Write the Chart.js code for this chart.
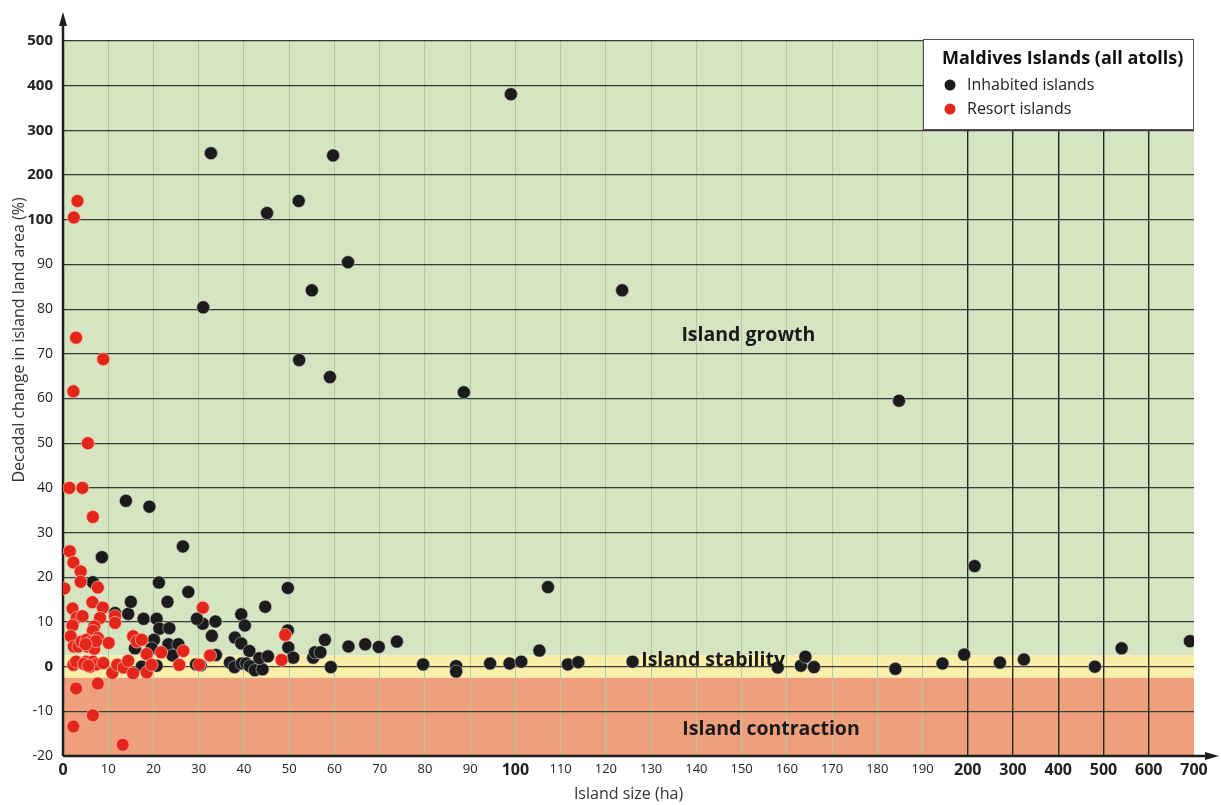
<!DOCTYPE html>
<html>
<head>
<meta charset="utf-8">
<script src="https://cdn.jsdelivr.net/npm/chart.js@4.4.1/dist/chart.umd.min.js"></script>
<style>
  html, body { margin: 0; padding: 0; background: #fff; }
  #wrap { width: 1221px; height: 805px; position: relative; }
</style>
</head>
<body>
<div id="wrap"><canvas id="islands-chart"></canvas></div>
<script>
// tick labels (the axes are broken: linear to 200 ha / 100 %, then compressed)
const xTickLabels = [0, 10, 20, 30, 40, 50, 60, 70, 80, 90, 100, 110, 120, 130, 140, 150, 160, 170, 180, 190, 200, 300, 400, 500, 600, 700];
const yTickLabels = [-20, -10, 0, 10, 20, 30, 40, 50, 60, 70, 80, 90, 100, 200, 300, 400, 500];
const boldX = [0, 100, 200, 300, 400, 500, 600, 700];
const boldY = [0, 100, 200, 300, 400, 500];

// [island size (ha), decadal change (%)]
const inhabitedIslands = [
  [99, 381], [32.7, 249], [59.7, 244], [45.1, 115], [52.1, 142], [63, 90.5], [55, 84.2], [123.6, 84.2],
  [31, 80.4], [52.2, 68.6], [59, 64.8], [88.6, 61.4], [184.8, 59.5], [13.9, 37.1], [19.1, 35.8],
  [26.5, 26.9], [8.6, 24.5], [107.2, 17.8], [215, 22.5],
  [184, -0.5], [194.4, 0.7], [199.2, 2.7], [271, 0.9], [324, 1.6], [481, 0], [540, 4.1], [691, 5.7],
  [73.8, 5.6], [79.6, 0.5], [86.9, 0.1], [86.9, -1.1], [94.4, 0.7], [98.7, 0.7], [101.3, 1.1],
  [105.3, 3.6], [111.6, 0.5], [113.9, 1.0], [125.9, 1.1], [158, -0.2], [163.1, 0.2], [164.1, 2.2], [166, -0.1],
  [30.9, 9.6], [33.7, 10.1], [32.9, 6.9], [33.8, 2.6], [39.4, 11.7], [40.2, 9.2], [44.7, 13.4], [49.7, 17.6],
  [38, 6.5], [39.4, 5.2], [41.2, 3.5], [36.9, 0.9], [37.9, -0.1], [39.5, 0.7], [40.5, 0.7], [41.3, 0.1],
  [42.4, -0.8], [44.1, -0.6], [43.4, 1.9], [45.3, 2.3], [49.7, 8.1], [49.8, 4.3], [50.9, 2.0], [55.3, 2.0],
  [55.7, 3.2], [56.9, 3.2], [57.9, 6.0], [59.2, -0.1], [63.1, 4.5], [66.8, 5.0], [69.8, 4.4],
  [6.6, 18.9], [11.5, 12.0], [14.4, 11.8], [15, 14.5], [15.9, 4.1], [17.8, 10.7], [20.7, 10.7], [21.2, 18.8],
  [23.1, 14.5], [27.7, 16.7], [21.3, 8.5], [23.5, 8.6], [20.1, 6.0], [19.6, 4.1], [23.3, 5.0], [25.5, 5.0],
  [24.2, 2.5], [17.4, 0], [20.7, 0.2], [29.6, 10.7], [29.4, 0.5], [30.4, 0.3]
];
const resortIslands = [
  [3.2, 142], [2.4, 105], [2.9, 73.6], [8.9, 68.8], [2.3, 61.6], [5.5, 50], [1.4, 40], [4.3, 40],
  [6.6, 33.5], [1.5, 25.8],
  [0.3, 17.5], [2.3, 23.3], [3.9, 21.3], [3.9, 19], [7.7, 17.7], [2.1, 13], [6.5, 14.4], [8.8, 13.2],
  [3.0, 10.9], [4.3, 11.3], [2.1, 9.2], [8.2, 10.9], [1.7, 6.8], [6.9, 9.0], [6.6, 8.0], [7.7, 6.4],
  [10.1, 5.3], [2.4, 4.5], [3.4, 4.5], [4.1, 5.6], [5.2, 6.0], [5.4, 4.5], [6.2, 5.5], [6.9, 4.0],
  [7.3, 5.7], [5.0, 5.0], [11.5, 11.3], [11.5, 9.8], [15.5, 6.8], [16.3, 5.6], [17.4, 6.0], [18.5, 2.8],
  [21.7, 3.2], [26.6, 3.5], [30.9, 13.2], [32.5, 2.5], [2.3, 0.4], [2.9, 1.1], [5.1, 1.1], [6.0, 0],
  [6.6, 1.1], [7.4, 0.5], [8.9, 0.8], [4.6, 0.6], [5.6, 0.2], [10.9, -1.4], [12.0, 0.4], [13.4, -0.2],
  [14.4, 1.3], [15.5, -1.5], [18.5, -1.3], [19.6, 0.4], [25.7, 0.4], [30.1, 0.4], [48.3, 1.5], [49.1, 7.1],
  [2.9, -4.9], [7.7, -3.8], [6.6, -10.9], [2.3, -13.4], [13.2, -17.5]
];

const legendTitle = 'Maldives Islands (all atolls)';
const yTitle = 'Decadal change in island land area (%)';
const zoneLabels = ['Island growth', 'Island stability', 'Island contraction'];
const zoneEdges = [-2.5, 2.5]; // % change bounding the stability band

// broken-axis transforms
const tx = (v) => (v <= 200 ? v : 200 + (v - 200) / 10);
const ty = (v) => (v <= 100 ? v / 10 : 10 + (v - 100) / 100);
const toPoints = (arr) => arr.map(([x, y]) => ({ x: tx(x), y: ty(y) }));

const FONT = '"Open Sans", Lato, sans-serif';
const xLabelFor = new Map(xTickLabels.map((v) => [tx(v), v]));
const yLabelFor = new Map(yTickLabels.map((v) => [ty(v), v]));

const backgroundBands = {
  id: 'backgroundBands',
  beforeDraw(chart) {
    const { ctx, chartArea: a, scales: { y } } = chart;
    const yLo = y.getPixelForValue(ty(zoneEdges[0]));
    const yHi = y.getPixelForValue(ty(zoneEdges[1]));
    ctx.save();
    ctx.fillStyle = '#d5e5c1';
    ctx.fillRect(a.left, a.top, a.right - a.left, yHi - a.top);
    ctx.fillStyle = '#f9efa8';
    ctx.fillRect(a.left, yHi, a.right - a.left, yLo - yHi);
    ctx.fillStyle = '#ee9f7c';
    ctx.fillRect(a.left, yLo, a.right - a.left, a.bottom - yLo);
    ctx.restore();
  },
};

const axesArrows = {
  id: 'axesArrows',
  beforeDatasetsDraw(chart) {
    const { ctx, chartArea: a } = chart;
    ctx.save();
    ctx.strokeStyle = '#1e1e1e';
    ctx.fillStyle = '#1e1e1e';
    ctx.lineWidth = 2.5;
    ctx.beginPath();
    ctx.moveTo(a.left, a.bottom);
    ctx.lineTo(a.left, 22);
    ctx.moveTo(a.left, a.bottom);
    ctx.lineTo(1210, a.bottom);
    ctx.stroke();
    ctx.beginPath();
    ctx.moveTo(a.left, 12);
    ctx.lineTo(a.left - 4, 26);
    ctx.lineTo(a.left + 4, 26);
    ctx.closePath();
    ctx.fill();
    ctx.beginPath();
    ctx.moveTo(1219, a.bottom);
    ctx.lineTo(1205, a.bottom - 4);
    ctx.lineTo(1205, a.bottom + 4);
    ctx.closePath();
    ctx.fill();
    // y axis title, sitting in the upper part of the axis as in the source
    ctx.translate(19, 340);
    ctx.rotate(-Math.PI / 2);
    ctx.fillStyle = '#333';
    ctx.font = `16px ${FONT}`;
    ctx.textAlign = 'center';
    ctx.textBaseline = 'middle';
    ctx.fillText(yTitle, 0, 0);
    ctx.restore();
  },
};

const zoneText = {
  id: 'zoneText',
  afterDatasetsDraw(chart) {
    const { ctx, scales: { x, y } } = chart;
    ctx.save();
    ctx.fillStyle = '#1a1a1a';
    ctx.font = `bold 19.5px ${FONT}`;
    ctx.textAlign = 'center';
    ctx.textBaseline = 'middle';
    ctx.fillText(zoneLabels[0], x.getPixelForValue(tx(151.5)), y.getPixelForValue(ty(74.1)));
    ctx.fillText(zoneLabels[1], x.getPixelForValue(tx(143.7)), y.getPixelForValue(ty(1.4)));
    ctx.fillText(zoneLabels[2], x.getPixelForValue(tx(156.5)), y.getPixelForValue(ty(-14)));
    ctx.restore();
  },
};

const boxLegend = {
  id: 'boxLegend',
  afterDraw(chart) {
    const { ctx } = chart;
    const left = 923, top = 39, w = 271, h = 91;
    ctx.save();
    ctx.fillStyle = '#fff';
    ctx.fillRect(left, top, w, h);
    ctx.strokeStyle = '#555';
    ctx.lineWidth = 1;
    ctx.strokeRect(left + 0.5, top + 0.5, w - 1, h - 1);
    ctx.fillStyle = '#111';
    ctx.textBaseline = 'middle';
    ctx.font = `bold 18px ${FONT}`;
    ctx.fillText(legendTitle, 942, 59);
    ctx.font = `16px ${FONT}`;
    chart.data.datasets.forEach((ds, i) => {
      const cy = 85 + i * 24;
      ctx.beginPath();
      ctx.arc(950, cy, 5.5, 0, Math.PI * 2);
      ctx.fillStyle = ds.backgroundColor;
      ctx.fill();
      ctx.fillStyle = '#222';
      ctx.fillText(ds.label, 967, cy);
    });
    ctx.restore();
  },
};

const ctx = document.getElementById('islands-chart').getContext('2d');
new Chart(ctx, {
  type: 'scatter',
  data: {
    datasets: [
      {
        label: 'Inhabited islands',
        data: toPoints(inhabitedIslands),
        backgroundColor: '#1b1b1b',
        borderColor: 'rgba(200,200,200,0.55)',
        borderWidth: 1,
        pointRadius: 6.5,
        order: 2,
      },
      {
        label: 'Resort islands',
        data: toPoints(resortIslands),
        backgroundColor: '#e3261b',
        borderColor: 'rgba(255,190,170,0.7)',
        borderWidth: 1,
        pointRadius: 6.5,
        order: 1,
      },
    ],
  },
  options: {
    responsive: true,
    maintainAspectRatio: false,
    animation: false,
    layout: { padding: { left: 0, right: 27, top: 41, bottom: 0 } },
    plugins: { legend: { display: false }, tooltip: { enabled: false } },
    scales: {
      x: {
        type: 'linear',
        min: 0,
        max: tx(700),
        afterFit: (s) => { s.height = 49; },
        afterBuildTicks: (s) => { s.ticks = xTickLabels.map((v) => ({ value: tx(v) })); },
        border: { display: false },
        grid: {
          drawTicks: false,
          color: (c) => {
            const v = xLabelFor.get(c.tick.value);
            if (v === 0 || v === 700) return 'rgba(0,0,0,0)';
            return v >= 200 ? '#262626' : '#b6c7a3';
          },
          lineWidth: (c) => (xLabelFor.get(c.tick.value) >= 200 ? 1.4 : 1),
        },
        ticks: {
          padding: 5,
          color: '#222',
          maxRotation: 0,
          autoSkip: false,
          callback: (value) => String(xLabelFor.get(value)),
          font: (c) => (boldX.includes(xLabelFor.get(c.tick && c.tick.value))
            ? { family: FONT, size: 16, weight: 'bold' }
            : { family: FONT, size: 13 }),
        },
        title: {
          display: true,
          text: 'Island size (ha)',
          color: '#333',
          font: { family: FONT, size: 16 },
          padding: { top: 0, bottom: 1 },
        },
      },
      y: {
        type: 'linear',
        min: ty(-20),
        max: ty(500),
        afterFit: (s) => { s.width = 63; },
        afterBuildTicks: (s) => { s.ticks = yTickLabels.map((v) => ({ value: ty(v) })); },
        border: { display: false },
        grid: {
          drawTicks: false,
          color: (c) => (yLabelFor.get(c.tick.value) === -20 ? 'rgba(0,0,0,0)' : '#3a3a3a'),
          lineWidth: 1.2,
        },
        ticks: {
          padding: 10,
          color: '#222',
          autoSkip: false,
          callback: (value) => String(yLabelFor.get(value)),
          font: (c) => (boldY.includes(yLabelFor.get(c.tick && c.tick.value))
            ? { family: FONT, size: 15, weight: 'bold' }
            : { family: FONT, size: 14 }),
        },
      },
    },
  },
  plugins: [backgroundBands, axesArrows, zoneText, boxLegend],
});
</script>
</body>
</html>
